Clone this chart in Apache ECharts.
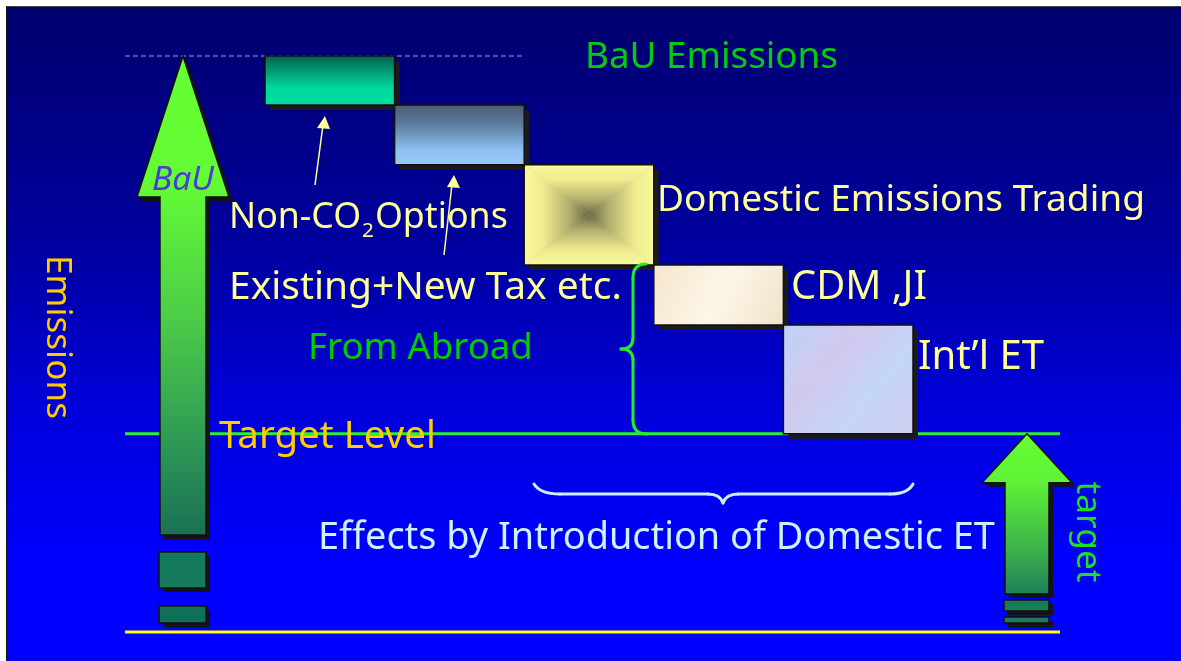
<!DOCTYPE html>
<html><head><meta charset="utf-8">
<script src="https://cdn.jsdelivr.net/npm/echarts@6/dist/echarts.min.js"></script>
<style>
html,body{margin:0;padding:0;background:#fff;overflow:hidden;width:1181px;height:661px}
#bg{position:absolute;left:6px;top:6px;width:1175px;height:655px;
 border-left:1.5px solid #111;border-top:1.5px solid #444;
 background:linear-gradient(to bottom,#00006e 0%,#00009c 35%,#0000dc 62%,#0000ff 85%,#0000ff 100%);}
#c{position:absolute;left:0;top:0;width:1181px;height:661px}
</style>
</head><body><div id="bg"></div><div id="c"></div>
<script>
// ---- data ----
const categories = ['Non-CO2 Options', 'Existing+New Tax etc.', 'Domestic Emissions Trading', 'CDM ,JI', 'Int\u2019l ET'];
const reductions = [8.5, 10.4, 17.4, 10.4, 18.9];
const bauLevel = 100;
const targetLevel = 34.4;
const zeroLevel = 0;

// ---- build cumulative boxes ----
const boxData = [];
let level = bauLevel;
reductions.forEach((r, i) => { boxData.push([i, level, level - r]); level -= r; });

const FAM = "'Noto Sans', 'DejaVu Sans', sans-serif";
const lin = (x, y, x2, y2, stops) => ({type: 'linear', x, y, x2, y2, colorStops: stops.map(s => ({offset: s[0], color: s[1]}))});
const pyrStops = [[0, '#fbf99b'], [0.3, '#efeb8f'], [0.7, '#b2ae6e'], [1, '#6a6848']];
const boxFills = [
  lin(0, 0, 0, 1, [[0, '#07614e'], [0.65, '#00d89c'], [1, '#00dda0']]),
  lin(0, 0, 0, 1, [[0, '#4a5c76'], [0.3, '#5a7898'], [0.75, '#8cc0f0'], [1, '#96c8f8']]),
  null,
  lin(0, 0, 1, 1, [[0, '#f5e6cd'], [0.5, '#fdf6e8'], [1, '#f2e3ca']]),
  lin(0, 0, 1, 1, [[0, '#bcd2f6'], [0.35, '#d2c8ee'], [0.65, '#c4d6f6'], [1, '#d0cdf0']])
];

function renderBox(params, api) {
  const i = api.value(0);
  const p1 = api.coord([i, api.value(1)]);
  const p2 = api.coord([i, api.value(2)]);
  const w = api.size([1, 0])[0];
  const x0 = p1[0] - w / 2, x1 = p1[0] + w / 2, y0 = p1[1], y1 = p2[1];
  const cx = (x0 + x1) / 2, cy = (y0 + y1) / 2;
  const children = [{type: 'rect', shape: {x: x0 + 5, y: y0 + 5, width: w, height: y1 - y0}, style: {fill: '#1b1b1b'}}];
  if (i === 2) {
    children.push(
      {type: 'rect', shape: {x: x0, y: y0, width: w, height: y1 - y0}, style: {fill: '#c8c480'}},
      {type: 'polygon', shape: {points: [[x0, y0], [x1, y0], [cx, cy]]}, style: {fill: lin(0, 0, 0, 1, pyrStops)}},
      {type: 'polygon', shape: {points: [[x0, y1], [x1, y1], [cx, cy]]}, style: {fill: lin(0, 1, 0, 0, pyrStops)}},
      {type: 'polygon', shape: {points: [[x0, y0], [x0, y1], [cx, cy]]}, style: {fill: lin(0, 0, 1, 0, pyrStops)}},
      {type: 'polygon', shape: {points: [[x1, y0], [x1, y1], [cx, cy]]}, style: {fill: lin(1, 0, 0, 0, pyrStops)}}
    );
  } else {
    children.push({type: 'rect', shape: {x: x0, y: y0, width: w, height: y1 - y0}, style: {fill: boxFills[i]}});
  }
  children.push({type: 'rect', shape: {x: x0, y: y0, width: w, height: y1 - y0}, style: {fill: 'none', stroke: '#111', lineWidth: 1.5}});
  return {type: 'group', children};
}

const chart = echarts.init(document.getElementById('c'), null, {renderer: 'canvas'});
chart.setOption({
  animation: false,
  backgroundColor: 'transparent',
  grid: {left: 265, right: 268, top: 56, bottom: 29},
  xAxis: {type: 'category', data: categories, show: false, boundaryGap: true},
  yAxis: {type: 'value', min: 0, max: 100, show: false, splitLine: {show: false}},
  series: [{type: 'custom', renderItem: renderBox, data: boxData, encode: {x: 0, y: [1, 2]}, z: 5}]
});

// ---- decorations anchored to data levels ----
const yB = chart.convertToPixel({yAxisIndex: 0}, bauLevel);
const yT = chart.convertToPixel({yAxisIndex: 0}, targetLevel);
const y0 = chart.convertToPixel({yAxisIndex: 0}, zeroLevel);

const mctx = document.createElement('canvas').getContext('2d');
function fit(text, width, style) {
  mctx.font = (style || '') + ' 100px ' + FAM;
  return 100 * width / mctx.measureText(text).width;
}
function mw(text, size, style) {
  mctx.font = (style || '') + ' ' + size + 'px ' + FAM;
  return mctx.measureText(text).width;
}
function txt(text, x, y, width, color, opts) {
  opts = opts || {};
  const size = fit(text, width, opts.fstyle);
  return {type: 'text', x: x, y: y, rotation: opts.rotation || 0, z: 120,
    style: {text: text, x: 0, y: 0, fill: color, font: (opts.fstyle || '') + ' ' + size.toFixed(2) + 'px ' + FAM,
      textAlign: opts.align || 'left', textVerticalAlign: 'middle'}};
}
function shadowed(type, shape, fill, z) {
  const off = type === 'polygon'
    ? {points: shape.points.map(p => [p[0] + 4, p[1] + 4])}
    : {x: shape.x + 4, y: shape.y + 4, width: shape.width, height: shape.height};
  return [
    {type: type, z: z - 1, shape: off, style: {fill: '#141414'}},
    {type: type, z: z, shape: shape, style: {fill: fill, stroke: '#111', lineWidth: 1.5}}
  ];
}
function seg(x1, y1, x2, y2, color) {
  return {type: 'line', z: 60, shape: {x1, y1, x2, y2}, style: {stroke: color, lineWidth: 3, lineCap: 'round'}};
}
function qc(x1, y1, cx, cy, x2, y2, color) {
  return {type: 'bezierCurve', z: 60, shape: {x1, y1, x2, y2, cpx1: cx, cpy1: cy}, style: {stroke: color, lineWidth: 3, fill: 'none', lineCap: 'round'}};
}

const arrowGradL = lin(0, 0, 0, 1, [[0, '#66ff33'], [0.27, '#62fb35'], [0.55, '#4ccc48'], [0.8, '#2f9a55'], [1, '#1a7055']]);
const arrowGradR = lin(0, 0, 0, 1, [[0, '#66ff33'], [0.3, '#5ef236'], [0.7, '#3fb44a'], [1, '#1e8058']]);

const yellow = '#ffff99';
const gBrace = '#22ee22', wBrace = '#c8f0ff';
const elements = [
  // reference lines
  {type: 'line', z: 1, shape: {x1: 125, y1: yB, x2: 525, y2: yB}, style: {stroke: '#8ea4d8', lineWidth: 1, lineDash: [5, 3]}},
  {type: 'line', z: 1, shape: {x1: 125, y1: yT, x2: 1060, y2: yT}, style: {stroke: '#2ff02f', lineWidth: 3}},
  {type: 'line', z: 1, shape: {x1: 125, y1: y0, x2: 1060, y2: y0}, style: {stroke: '#ffff00', lineWidth: 3}},
  // BaU arrow
  ...shadowed('polygon', {points: [[183, yB], [229, 197], [206, 197], [206, 535], [160, 535], [160, 197], [137, 197]]}, arrowGradL, 50),
  ...shadowed('rect', {x: 159, y: 552, width: 47, height: 36}, '#157a5c', 50),
  ...shadowed('rect', {x: 159, y: 606, width: 47, height: 17}, '#0e7058', 50),
  // target arrow
  ...shadowed('polygon', {points: [[1027, yT], [1072, yT + 49], [1049, yT + 49], [1049, 594], [1005, 594], [1005, yT + 49], [982, yT + 49]]}, arrowGradR, 50),
  ...shadowed('rect', {x: 1004, y: 600, width: 45, height: 11}, '#1a7a5a', 50),
  ...shadowed('rect', {x: 1004, y: 617, width: 45, height: 6}, '#1a7a5a', 50),
  // pointer arrows
  {type: 'line', z: 60, shape: {x1: 315, y1: 185, x2: 323, y2: 125}, style: {stroke: yellow, lineWidth: 1.5}},
  {type: 'polygon', z: 60, shape: {points: [[325, 116], [330, 129], [317, 128]]}, style: {fill: yellow}},
  {type: 'line', z: 60, shape: {x1: 444, y1: 255, x2: 452, y2: 184}, style: {stroke: yellow, lineWidth: 1.5}},
  {type: 'polygon', z: 60, shape: {points: [[454, 175], [460, 188], [447, 187]]}, style: {fill: yellow}},
  // vertical brace (From Abroad)
  qc(646, 264, 633, 264, 633, 278, gBrace), seg(633, 278, 633, 338, gBrace),
  qc(633, 338, 633, 349, 621, 349, gBrace), qc(621, 349, 633, 349, 633, 360, gBrace),
  seg(633, 360, 633, 420, gBrace), qc(633, 420, 633, 434, 647, 434, gBrace),
  // horizontal brace (Domestic ET effects)
  qc(534, 484, 540, 494, 560, 494, wBrace), seg(560, 494, 708, 494, wBrace),
  qc(708, 494, 720, 494, 723, 503, wBrace), qc(723, 503, 726, 494, 738, 494, wBrace),
  seg(738, 494, 890, 494, wBrace), qc(890, 494, 908, 494, 913, 484, wBrace),
  // texts
  txt('BaU Emissions', 585, 58, 253, '#00cc11'),
  txt('Domestic Emissions Trading', 657, 200, 488, yellow),
  txt('CDM ,JI', 791, 288, 136, yellow),
  txt('Int\u2019l ET', 918, 358, 126, yellow),
  txt('Existing+New Tax etc.', 229, 288, 393, yellow),
  txt('From Abroad', 308, 349, 225, '#00cc00'),
  txt('Target Level', 219, 437, 217, '#ffcc00'),
  txt('Effects by Introduction of Domestic ET', 318, 538, 677, '#ccf2ff'),
  txt('Emissions', 57, 337, 164, '#ffcc00', {rotation: -Math.PI / 2, align: 'center'}),
  txt('target', 1087, 532, 101, '#22dd22', {rotation: -Math.PI / 2, align: 'center'}),
  txt('BaU', 183, 180, 62, '#4a3ed0', {fstyle: 'italic', align: 'center'})
];

// Non-CO2Options with subscript
(function () {
  const base = fit('Non-COOptions', 265);
  const sub = base * 0.58;
  const wa = mw('Non-CO', base), wb = mw('2', sub);
  const mk = (t, x, y, s) => ({type: 'text', x: x, y: y, z: 120,
    style: {text: t, x: 0, y: 0, fill: yellow, font: s.toFixed(2) + 'px ' + FAM, textAlign: 'left', textVerticalAlign: 'middle'}});
  elements.push(mk('Non-CO', 229, 218, base), mk('2', 229 + wa + 1, 231, sub), mk('Options', 229 + wa + wb + 2, 218, base));
})();

chart.setOption({graphic: {elements: elements}});
</script>
</body></html>
